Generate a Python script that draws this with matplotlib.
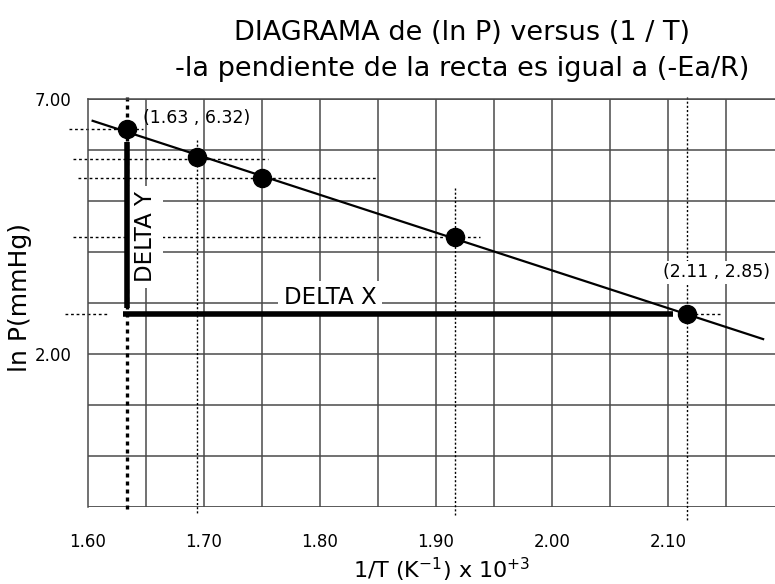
"""
ln P versus 1/T diagram (Clausius-Clapeyron plot)
"""

import numpy as np
import matplotlib
matplotlib.use("Agg")
import matplotlib.pyplot as plt

# data
inv_t = [1.634, 1.694, 1.750, 1.916, 2.116]
ln_p = [6.41, 5.86, 5.45, 4.29, 2.78]
point_labels = ["(1.63 , 6.32)", "(2.11 , 2.85)"]

x_ticks = [1.60, 1.70, 1.80, 1.90, 2.00, 2.10]
y_ticks = [7.00, 2.00]

title = "DIAGRAMA de (ln P) versus (1 / T)\n-la pendiente de la recta es igual a (-Ea/R)"

# fitted line
slope, intercept = np.polyfit(inv_t, ln_p, 1)
x_line = np.array([1.604, 2.182])
y_line = slope * x_line + intercept

fig = plt.figure(figsize=(7.75, 5.84), dpi=100)
ax = fig.add_axes([88 / 775, 77 / 584, 687 / 775, 408 / 584])
ax.set_xlim(1.60, 1.60 + 687 / 1160)
ax.set_ylim(-1.0, 7.0)

# grid
grid_c = "#4a4a4a"
for gx in np.arange(1.65, 2.19, 0.05):
    ax.axvline(gx, color=grid_c, lw=1.1, zorder=1)
for gy in np.arange(0.0, 7.5, 1.0):
    ax.axhline(gy, color=grid_c, lw=1.1, zorder=1)

for s in ["right", "bottom"]:
    ax.spines[s].set_visible(False)
ax.spines["left"].set_color(grid_c)
ax.spines["top"].set_color(grid_c)
ax.spines["left"].set_linewidth(1.1)
ax.spines["top"].set_linewidth(1.1)
ax.axhline(-1.0, color=grid_c, lw=2, zorder=1)

# reference dotted lines (left end, right end) per point
h_ext = [(1.584, 1.647), (1.587, 1.755), (1.591, 1.849), (1.587, 1.938), (1.580, 1.617)]
h_y = [6.41, 5.82, 5.45, 4.29, 2.78]
for (x0, x1), yy in zip(h_ext, h_y):
    ax.plot([x0, x1], [yy, yy], color="black", lw=1.0, ls=(0, (2, 2)),
            clip_on=False, zorder=2)
ax.plot([2.123, 2.145], [ln_p[4], ln_p[4]], color="black", lw=1.0,
        ls=(0, (2, 2)), zorder=2)

v_ext = [(7.04, -1.12), (6.2, -1.16), None, (5.25, -1.16), (7.04, -1.3)]
for i, ext in enumerate(v_ext):
    if ext is None:
        continue
    if i == 0:
        ax.plot([inv_t[i]] * 2, ext, color="black", lw=2.4, ls=(0, (1.2, 1.2)),
                clip_on=False, zorder=2)
    else:
        ax.plot([inv_t[i]] * 2, ext, color="black", lw=1.0, ls=(0, (1.5, 1.5)),
                clip_on=False, zorder=2)

# DELTA labels with white boxes
ax.text(1.60 + 58 / 1160, 7 - 138 / 51, "DELTA Y", rotation=90, fontsize=16.5,
        ha="center", va="center", zorder=3,
        bbox=dict(facecolor="white", edgecolor="none", pad=4))
ax.text(1.60 + 242 / 1160, 7 - 199 / 51, "DELTA X", fontsize=16.5,
        ha="center", va="center", zorder=3,
        bbox=dict(facecolor="white", edgecolor="none", pad=4))

# DELTA bars
ax.plot([inv_t[0], inv_t[0]], [ln_p[0] - 0.26, ln_p[4] + 0.12], color="black",
        lw=4, solid_capstyle="butt", zorder=4)
ax.plot([inv_t[0] - 0.004, inv_t[4] - 0.012], [ln_p[4], ln_p[4]], color="black",
        lw=4, solid_capstyle="butt", zorder=4)

# regression line and points
ax.plot(x_line, y_line, color="black", lw=1.6, zorder=5)
ax.plot(inv_t, ln_p, "o", color="black", ms=13, zorder=6)

ax.text(inv_t[0] + 0.013, ln_p[0] + 0.22, point_labels[0], fontsize=12.5,
        ha="left", va="center", zorder=7)
ax.text(inv_t[4] + 0.026, ln_p[4] + 0.82, point_labels[1], fontsize=12.5,
        ha="center", va="center", zorder=7,
        bbox=dict(facecolor="white", edgecolor="none", pad=2))

# ticks
ax.set_xticks(x_ticks)
ax.set_xticklabels([f"{v:.2f}" for v in x_ticks], fontsize=12)
ax.set_yticks(y_ticks)
ax.set_yticklabels([f"{v:.2f}" for v in y_ticks], fontsize=12)
ax.tick_params(axis="x", length=0, pad=19)
ax.tick_params(axis="y", length=0, pad=12)

ax.set_xlabel(r"1/T (K$^{-1}$) x 10$^{+3}$", fontsize=16)
ax.xaxis.set_label_coords((442 - 88) / 687, -(556 - 507) / 408)
ax.set_ylabel("ln P(mmHg)", fontsize=18)
ax.yaxis.set_label_coords(-(88 - 32) / 687, (507 - 298) / 408)

fig.text(462 / 775, 1 - 51 / 584, title, fontsize=19.5, ha="center", va="center",
         linespacing=1.45)

fig.savefig("out.png", dpi=100)
